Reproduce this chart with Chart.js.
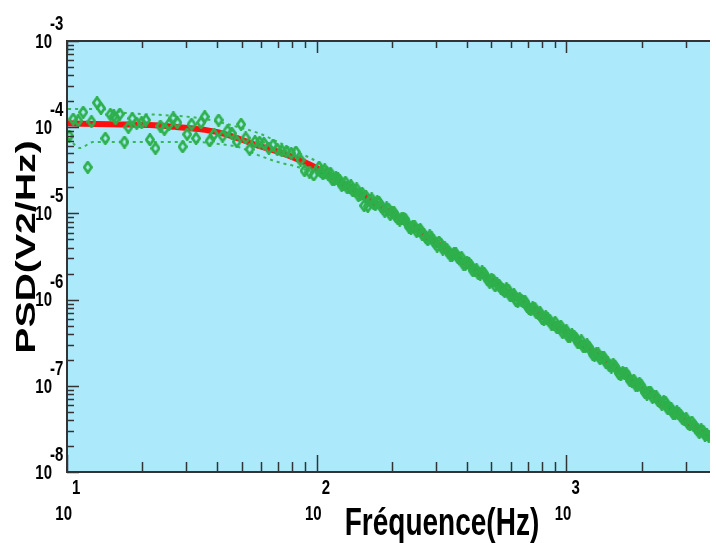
<!DOCTYPE html>
<html>
<head>
<meta charset="utf-8">
<title>PSD</title>
<script src="https://cdn.jsdelivr.net/npm/chart.js@4.4.1/dist/chart.umd.min.js"></script>
<style>
    html, body { margin: 0; padding: 0; background: #fff; }
    #wrap { width: 716px; height: 543px; }
</style>
</head>
<body>
<div id="wrap"><canvas id="psdChart" width="716" height="543"></canvas></div>
<script>
const pointsHz = [
    10.21, 10.59, 11.09, 11.61, 12.11, 12.53, 13.19, 13.68, 14.24, 14.91, 15.41, 15.65, 16.27, 16.99,
    17.62, 18.27, 19.01, 19.90, 20.72, 21.48, 22.61, 23.67, 24.55, 25.63, 26.66, 27.65, 29.05, 30.29,
    31.54, 32.88, 34.43, 35.61, 37.27, 38.77, 40.47, 41.98, 43.95, 45.71, 47.85, 49.81, 51.95, 53.88,
    56.6, 59.02, 61.45, 64.32, 66.9, 69.58, 72.43, 75.54, 79.07, 82.55, 86.17, 89.39, 93.55, 97.3,
    102.3, 105.9, 109.6, 113.5, 117.5, 121.6, 125.9, 130.3, 134.9, 139.6, 144.5, 149.6, 154.9, 160.3,
    166.0, 171.8, 177.8, 184.1, 190.5, 197.2, 204.2, 211.3, 218.8, 226.5, 234.4, 242.7, 251.2, 260.0,
    269.2, 278.6, 288.4, 298.5, 309.0, 319.9, 331.1, 342.8, 354.8, 367.3, 380.2, 393.6, 407.4, 421.7,
    436.5, 451.9, 467.7, 484.2, 501.2, 518.8, 537.0, 555.9, 575.4, 595.7, 616.6, 638.3, 660.7, 683.9,
    707.9, 732.8, 758.6, 785.2, 812.8, 841.4, 871.0, 901.6, 933.3, 966.1, 1000, 1035, 1072, 1109,
    1148, 1189, 1230, 1274, 1318, 1365, 1413, 1462, 1514, 1567, 1622, 1679, 1738, 1799, 1862, 1928,
    1995, 2065, 2138, 2213, 2291, 2371, 2455, 2541, 2630, 2723, 2818, 2917, 3020, 3126, 3236, 3350,
    3467, 3589, 3715
];
const pointsPsd = [
    7.9e-5, 1.24e-4, 1.19e-4, 1.49e-4, 3.43e-5, 1.16e-4, 1.92e-4, 1.66e-4, 7.43e-5, 1.40e-4, 1.35e-4, 1.26e-4, 1.42e-4, 6.73e-5,
    9.97e-5, 1.26e-4, 1.11e-4, 1.13e-4, 1.21e-4, 7.16e-5, 5.69e-5, 1.03e-4, 9.46e-5, 1.08e-4, 1.28e-4, 1.13e-4, 5.94e-5, 8.28e-5,
    1.08e-4, 7.43e-5, 1.13e-4, 1.32e-4, 6.92e-5, 8.28e-5, 1.21e-4, 7.9e-5, 9.1e-5, 8.5e-5, 6.79e-5, 1.08e-4, 7.5e-5, 5.54e-5,
    6.79e-5, 6.68e-5, 6.5e-5, 5.69e-5, 6.21e-5, 5.54e-5, 5.34e-5, 5.2e-5, 4.98e-5, 5.15e-5, 4.16e-5, 3.13e-5, 3.02e-5, 2.79e-5,
    3.44e-5, 2.88e-5, 2.97e-5, 2.93e-5, 2.45e-5, 2.54e-5, 2.12e-5, 2.30e-5, 2.02e-5, 1.82e-5, 1.92e-5, 1.65e-5, 1.23e-5, 1.21e-5,
    1.47e-5, 1.26e-5, 1.34e-5, 1.15e-5, 1.16e-5, 9.70e-6, 1.02e-5, 8.67e-6, 8.69e-6, 8.51e-6, 6.93e-6, 7.10e-6, 6.19e-6, 6.50e-6,
    5.68e-6, 4.94e-6, 5.19e-6, 4.53e-6, 4.65e-6, 3.86e-6, 3.86e-6, 3.29e-6, 3.44e-6, 3.07e-6, 3.07e-6, 2.55e-6, 2.61e-6, 2.17e-6,
    2.22e-6, 1.98e-6, 2.03e-6, 1.69e-6, 1.73e-6, 1.44e-6, 1.47e-6, 1.31e-6, 1.34e-6, 1.11e-6, 1.14e-6, 9.48e-7, 9.70e-7, 9.48e-7,
    7.89e-7, 8.07e-7, 7.03e-7, 7.03e-7, 5.85e-7, 5.98e-7, 5.21e-7, 5.46e-7, 4.75e-7, 4.14e-7, 4.34e-7, 3.78e-7, 3.78e-7, 3.20e-7,
    3.33e-7, 2.82e-7, 2.81e-7, 2.33e-7, 2.37e-7, 2.06e-7, 2.14e-7, 1.86e-7, 1.65e-7, 1.68e-7, 1.39e-7, 1.42e-7, 1.38e-7, 1.14e-7,
    1.16e-7, 1.01e-7, 1.00e-7, 8.32e-8, 8.47e-8, 7.35e-8, 7.48e-8, 6.49e-8, 6.61e-8, 5.47e-8, 5.45e-8, 4.72e-8, 4.81e-8, 4.17e-8,
    4.15e-8, 3.52e-8, 3.50e-8, 3.10e-8, 3.09e-8, 2.68e-8, 2.61e-8
];
// the in-between bins above 100 Hz, where the markers merge into a band
const bandHz = [
    104.1, 107.7, 111.5, 115.5, 119.5, 123.7, 128.1, 132.6, 137.2, 142.0, 147.0, 152.2, 157.6, 163.1,
    168.9, 174.8, 180.9, 187.3, 193.8, 200.6, 207.8, 215.0, 222.6, 230.4, 238.5, 246.9, 255.6, 264.5,
    273.9, 283.5, 293.4, 303.7, 314.4, 325.5, 336.9, 348.8, 361.0, 373.7, 386.8, 400.5, 414.5, 429.0,
    444.1, 459.8, 475.8, 492.6, 509.9, 527.8, 546.4, 565.6, 585.4, 606.1, 627.3, 649.4, 672.2, 695.8,
    720.2, 745.6, 771.8, 798.9, 827.0, 856.0, 886.2, 917.3, 949.5, 982.9, 1017, 1053, 1091, 1128,
    1168, 1210, 1251, 1296, 1341, 1389, 1438, 1487, 1540, 1594, 1650, 1708, 1768, 1830, 1894, 1962,
    2030, 2101, 2175, 2252, 2331, 2412, 2498, 2585, 2676, 2770, 2867, 2968, 3073, 3180, 3292, 3408,
    3527, 3652
];
const bandPsd = [
    3.03e-5, 3.20e-5, 2.81e-5, 2.47e-5, 2.60e-5, 2.39e-5, 2.15e-5, 1.98e-5, 2.09e-5, 1.84e-5, 1.61e-5, 1.71e-5, 1.57e-5, 1.41e-5,
    1.30e-5, 1.37e-5, 1.21e-5, 1.06e-5, 1.12e-5, 1.03e-5, 9.18e-6, 8.38e-6, 8.79e-6, 7.67e-6, 6.70e-6, 7.01e-6, 6.41e-6, 5.73e-6,
    5.24e-6, 5.48e-6, 4.79e-6, 4.18e-6, 4.39e-6, 4.00e-6, 3.56e-6, 3.25e-6, 3.40e-6, 2.96e-6, 2.58e-6, 2.70e-6, 2.47e-6, 2.20e-6,
    2.00e-6, 2.10e-6, 1.83e-6, 1.59e-6, 1.67e-6, 1.52e-6, 1.36e-6, 1.24e-6, 1.29e-6, 1.13e-6, 9.82e-7, 1.03e-6, 9.38e-7, 8.36e-7,
    7.62e-7, 7.98e-7, 6.95e-7, 6.05e-7, 6.34e-7, 5.78e-7, 5.15e-7, 4.70e-7, 4.92e-7, 4.29e-7, 3.73e-7, 3.91e-7, 3.56e-7, 3.16e-7,
    2.86e-7, 2.99e-7, 2.59e-7, 2.24e-7, 2.34e-7, 2.12e-7, 1.88e-7, 1.71e-7, 1.78e-7, 1.55e-7, 1.34e-7, 1.40e-7, 1.27e-7, 1.13e-7,
    1.02e-7, 1.07e-7, 9.25e-8, 8.02e-8, 8.36e-8, 7.59e-8, 6.73e-8, 6.11e-8, 6.37e-8, 5.52e-8, 4.79e-8, 4.99e-8, 4.53e-8, 4.02e-8,
    3.65e-8, 3.80e-8, 3.30e-8, 2.86e-8, 2.98e-8, 2.70e-8
];

// fitted curve and its confidence band
const fitHz = [10, 15, 21.4, 27, 33.7, 40.5, 48.6, 58.2, 70, 80, 90, 100, 145, 236, 435, 803, 1514, 2818, 3760];
const fitPsd = [1.11e-4, 1.08e-4, 1.06e-4, 1.01e-4, 9.5e-5, 8.7e-5, 7.4e-5, 6.1e-5, 5.2e-5, 4.5e-5, 3.9e-5, 3.36e-5,
    1.79e-5, 7.3e-6, 2.19e-6, 6.45e-7, 1.73e-7, 4.6e-8, 2.45e-8];
const upperHz = [10.1, 13.5, 17.3, 23.4, 33.7, 40.5, 48.6, 58.2, 70, 84, 101, 145, 236, 435, 803, 1514, 2818, 3760];
const upperPsd = [1.63e-4, 1.63e-4, 1.46e-4, 1.39e-4, 1.28e-4, 1.15e-4, 1.0e-4, 8.57e-5, 6.73e-5, 5.15e-5, 3.94e-5,
    1.92e-5, 7.85e-6, 2.34e-6, 6.92e-7, 1.85e-7, 4.92e-8, 2.63e-8];
const lowerHz = [10.1, 11.3, 12.7, 17.8, 33.7, 40.5, 48.6, 58.2, 70, 84, 101, 145, 236, 435, 803, 1514, 2818, 3760];
const lowerPsd = [7.5e-5, 5.74e-5, 6.73e-5, 6.73e-5, 6.73e-5, 6.38e-5, 5.89e-5, 4.75e-5, 3.94e-5, 3.45e-5, 2.79e-5,
    1.65e-5, 6.76e-6, 2.02e-6, 5.96e-7, 1.59e-7, 4.24e-8, 2.26e-8];

// axes
const xMin = 10, xMax = 3760;
const yMin = 1e-8, yMax = 1e-3;
const xDecades = [10, 100, 1000];
const xExponents = ['1', '2', '3'];
const yDecades = [1e-8, 1e-7, 1e-6, 1e-5, 1e-4, 1e-3];
const yExponents = ['-8', '-7', '-6', '-5', '-4', '-3'];
const minorSteps = [2, 3, 4, 5, 6, 7, 8, 9];

function pairs(xs, ys) {
    return xs.map((x, i) => ({ x: x, y: ys[i] }));
}

// tall hollow diamond, the figure is stretched vertically
function makeDiamond() {
    const c = document.createElement('canvas');
    c.width = 10;
    c.height = 13;
    const g = c.getContext('2d');
    g.strokeStyle = '#2eb04c';
    g.lineWidth = 2.8;
    g.beginPath();
    g.moveTo(5, 1.3);
    g.lineTo(8.7, 6.5);
    g.lineTo(5, 11.7);
    g.lineTo(1.3, 6.5);
    g.closePath();
    g.stroke();
    return c;
}

function stretchedText(ctx, text, x, y, size, align, rotate) {
    ctx.save();
    ctx.translate(x, y);
    if (rotate) {
        ctx.rotate(-Math.PI / 2);
        ctx.scale(1.4, 1);
    } else {
        ctx.scale(1, 1.4);
    }
    ctx.font = 'bold ' + size + 'px "Liberation Sans", Arial, sans-serif';
    ctx.fillStyle = '#000';
    ctx.textAlign = align;
    ctx.textBaseline = 'middle';
    ctx.fillText(text, 0, 0);
    ctx.restore();
}

const framePlugin = {
    id: 'frame',
    beforeDraw(chart) {
        const ctx = chart.ctx, a = chart.chartArea;
        ctx.save();
        ctx.fillStyle = '#fff';
        ctx.fillRect(0, 0, chart.width, chart.height);
        ctx.fillStyle = '#abe9fb';
        ctx.fillRect(a.left, a.top, a.right - a.left, a.bottom - a.top);
        ctx.restore();
    },
    afterDraw(chart) {
        const ctx = chart.ctx, a = chart.chartArea;
        const xs = chart.scales.x, ys = chart.scales.y;
        ctx.save();
        ctx.strokeStyle = '#333';
        ctx.lineWidth = 1.5;
        // y ticks
        yDecades.forEach((d, i) => {
            const py = Math.round(ys.getPixelForValue(d)) + 0.5;
            ctx.beginPath(); ctx.moveTo(a.left, py); ctx.lineTo(a.left + 12, py); ctx.stroke();
            if (i < yDecades.length - 1) {
                minorSteps.forEach(m => {
                    const my = Math.round(ys.getPixelForValue(d * m)) + 0.5;
                    ctx.beginPath(); ctx.moveTo(a.left, my); ctx.lineTo(a.left + 7, my); ctx.stroke();
                });
            }
        });
        // x ticks, bottom and top
        xDecades.forEach(d => {
            const px = Math.round(xs.getPixelForValue(d)) + 0.5;
            ctx.beginPath(); ctx.moveTo(px, a.bottom); ctx.lineTo(px, a.bottom - 17); ctx.stroke();
            ctx.beginPath(); ctx.moveTo(px, a.top); ctx.lineTo(px, a.top + 12); ctx.stroke();
            minorSteps.forEach(m => {
                if (d * m > xMax) return;
                const mx = Math.round(xs.getPixelForValue(d * m)) + 0.5;
                ctx.beginPath(); ctx.moveTo(mx, a.bottom); ctx.lineTo(mx, a.bottom - 10); ctx.stroke();
                ctx.beginPath(); ctx.moveTo(mx, a.top); ctx.lineTo(mx, a.top + 7); ctx.stroke();
            });
        });
        // frame
        ctx.lineWidth = 2;
        ctx.beginPath();
        ctx.moveTo(a.right, a.top);
        ctx.lineTo(a.left, a.top);
        ctx.lineTo(a.left, a.bottom);
        ctx.lineTo(a.right, a.bottom);
        ctx.stroke();
        ctx.restore();

        // tick labels
        yDecades.forEach((d, i) => {
            const py = ys.getPixelForValue(d);
            stretchedText(ctx, '10', a.left - 15, py + 1, 15, 'right');
            stretchedText(ctx, yExponents[i], a.left - 17, py - 17, 15, 'left');
        });
        xDecades.forEach((d, i) => {
            const px = xs.getPixelForValue(d);
            stretchedText(ctx, '10', px + 5, a.bottom + 42, 15, 'right');
            stretchedText(ctx, xExponents[i], px + 5, a.bottom + 16, 15, 'left');
        });
        // axis titles
        stretchedText(ctx, 'Fréquence(Hz)', 442, 524, 28, 'center');
        stretchedText(ctx, 'PSD(V2/Hz)', 27, 247, 28, 'center', true);
    }
};

const ctx = document.getElementById('psdChart').getContext('2d');
new Chart(ctx, {
    type: 'scatter',
    data: {
        datasets: [
            {
                label: 'mesure',
                data: pairs(pointsHz, pointsPsd).concat(pairs(bandHz, bandPsd)),
                pointStyle: makeDiamond(),
                pointRadius: 5,
                borderColor: '#2eb04c',
                backgroundColor: '#2eb04c',
                order: 0
            },
            {
                label: 'fit',
                data: pairs(fitHz, fitPsd),
                showLine: true,
                pointRadius: 0,
                borderColor: '#ff1010',
                borderWidth: 6,
                cubicInterpolationMode: 'monotone',
                order: 1
            },
            {
                label: 'haut',
                data: pairs(upperHz, upperPsd),
                showLine: true,
                pointRadius: 0,
                borderColor: '#3cb558',
                borderWidth: 2,
                borderDash: [3, 4],
                cubicInterpolationMode: 'monotone',
                order: 2
            },
            {
                label: 'bas',
                data: pairs(lowerHz, lowerPsd),
                showLine: true,
                pointRadius: 0,
                borderColor: '#3cb558',
                borderWidth: 2,
                borderDash: [3, 4],
                cubicInterpolationMode: 'monotone',
                order: 2
            }
        ]
    },
    options: {
        responsive: false,
        devicePixelRatio: 1,
        animation: false,
        layout: { padding: { left: 67, top: 41, right: 0, bottom: 71 } },
        plugins: { legend: { display: false }, tooltip: { enabled: false } },
        scales: {
            x: { type: 'logarithmic', min: xMin, max: xMax, display: false },
            y: { type: 'logarithmic', min: yMin, max: yMax, display: false }
        }
    },
    plugins: [framePlugin]
});
</script>
</body>
</html>
